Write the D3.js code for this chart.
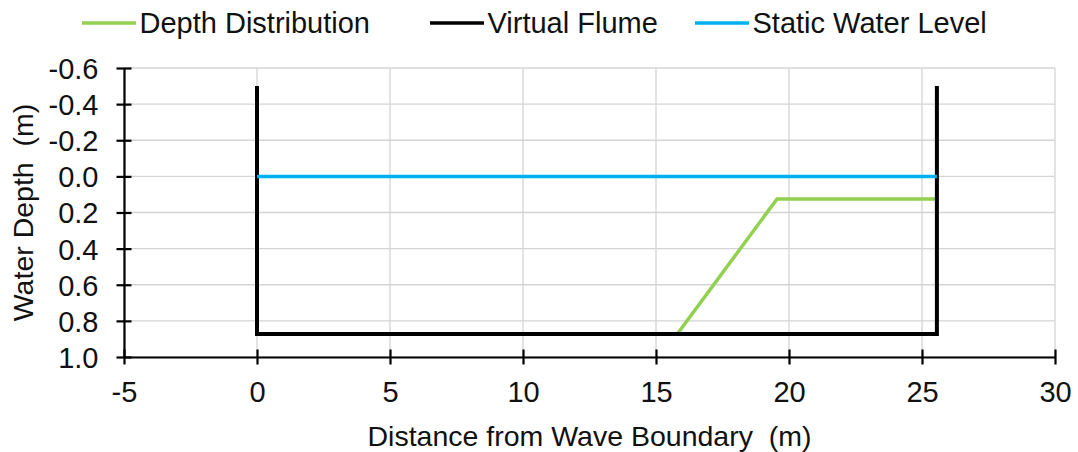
<!DOCTYPE html>
<html>
<head>
<meta charset="utf-8">
<script src="https://cdn.jsdelivr.net/npm/d3@7"></script>
<style>
  html, body { margin: 0; padding: 0; background: #fff; }
  svg { display: block; font-family: "Liberation Sans", Arial, sans-serif; }
</style>
</head>
<body>
<svg id="chart" width="1078" height="452"></svg>
<script>
// Series (x = distance from wave boundary in m, y = water depth in m, positive downward)
const depthX = [15.8, 19.55, 25.5];
const depthY = [0.873, 0.125, 0.125];
const flumeX = [0, 0, 25.56, 25.56];
const flumeY = [-0.5, 0.873, 0.873, -0.5];
const swlX = [0, 25.56];
const swlY = [0, 0];

// Axis ticks
const xTicks = [-5, 0, 5, 10, 15, 20, 25, 30];
const yTicks = [-0.6, -0.4, -0.2, 0.0, 0.2, 0.4, 0.6, 0.8, 1.0];

// Legend entries
const seriesNames = ["Depth Distribution", "Virtual Flume", "Static Water Level"];
const seriesColors = ["#92D050", "#000000", "#00B0F0"];

const svg = d3.select("#chart");
const plot = { left: 124, right: 1055, top: 68, bottom: 357 };

const x = d3.scaleLinear().domain([-5, 30]).range([plot.left, plot.right]);
const y = d3.scaleLinear().domain([-0.6, 1.0]).range([plot.top, plot.bottom]);

const labelSize = 29;
const titleSize = 28.5;
const textColor = "#111";
const fontFamily = "Liberation Sans, Arial, sans-serif";

// Gridlines
const grid = svg.append("g");
grid.selectAll(".vg").data(xTicks).join("line")
  .attr("x1", d => x(d)).attr("x2", d => x(d))
  .attr("y1", plot.top).attr("y2", plot.bottom)
  .attr("stroke", "#d4d4d4").attr("stroke-width", 1.3);
grid.selectAll(".hg").data(yTicks).join("line")
  .attr("x1", plot.left).attr("x2", plot.right)
  .attr("y1", d => y(d)).attr("y2", d => y(d))
  .attr("stroke", "#d4d4d4").attr("stroke-width", 1.3);

// Axes: axis lines with ticks crossing them
const xAxis = svg.append("g")
  .attr("transform", `translate(0,${plot.bottom})`)
  .call(d3.axisBottom(x).tickValues(xTicks).tickSize(0).tickPadding(0).tickFormat(d => String(d)));
xAxis.select(".domain").attr("stroke", "#000").attr("stroke-width", 2.2);
xAxis.selectAll(".tick line").attr("y1", -7.5).attr("y2", 7.5).attr("stroke", "#000").attr("stroke-width", 2.2);
xAxis.selectAll(".tick text")
  .attr("y", 45).attr("dy", null)
  .attr("fill", textColor).style("font-size", labelSize + "px").style("font-family", fontFamily);

const yAxis = svg.append("g")
  .attr("transform", `translate(${plot.left},0)`)
  .call(d3.axisLeft(y).tickValues(yTicks).tickSize(0).tickPadding(0).tickFormat(d => d.toFixed(1)));
yAxis.select(".domain").attr("stroke", "#000").attr("stroke-width", 2.2);
yAxis.selectAll(".tick line").attr("x1", -7.5).attr("x2", 7.5).attr("stroke", "#000").attr("stroke-width", 2.2);
yAxis.selectAll(".tick text")
  .attr("x", -25.5).attr("dy", "0.36em")
  .attr("fill", textColor).style("font-size", labelSize + "px").style("font-family", fontFamily);

// Axis titles
svg.append("text")
  .attr("x", (plot.left + plot.right) / 2).attr("y", 446)
  .attr("text-anchor", "middle").attr("fill", textColor)
  .style("font-size", titleSize + "px")
  .attr("xml:space", "preserve")
  .text("Distance from Wave Boundary  (m)");

svg.append("text")
  .attr("transform", `translate(33,${(plot.top + plot.bottom) / 2}) rotate(-90)`)
  .attr("text-anchor", "middle").attr("fill", textColor)
  .style("font-size", titleSize + "px")
  .attr("xml:space", "preserve")
  .text("Water Depth  (m)");

// Series lines
const line = d3.line().x(d => x(d[0])).y(d => y(d[1]));
const series = [
  { pts: d3.zip(depthX, depthY), color: seriesColors[0], w: 3.5 },
  { pts: d3.zip(flumeX, flumeY), color: seriesColors[1], w: 4 },
  { pts: d3.zip(swlX, swlY), color: seriesColors[2], w: 3.5 }
];
svg.append("g").selectAll("path").data(series).join("path")
  .attr("d", d => line(d.pts))
  .attr("fill", "none")
  .attr("stroke", d => d.color)
  .attr("stroke-width", d => d.w)
  .attr("stroke-linejoin", "miter");

// Legend
const legendStarts = [82, 430, 695];
const legend = svg.append("g");
seriesNames.forEach((name, i) => {
  const g = legend.append("g").attr("transform", `translate(${legendStarts[i]},23)`);
  g.append("line").attr("x1", 0).attr("x2", 54).attr("y1", 0).attr("y2", 0)
    .attr("stroke", seriesColors[i]).attr("stroke-width", 3.5);
  g.append("text").attr("x", 57.5).attr("y", 9.8)
    .attr("fill", textColor).style("font-size", labelSize + "px")
    .text(name);
});
</script>
</body>
</html>
